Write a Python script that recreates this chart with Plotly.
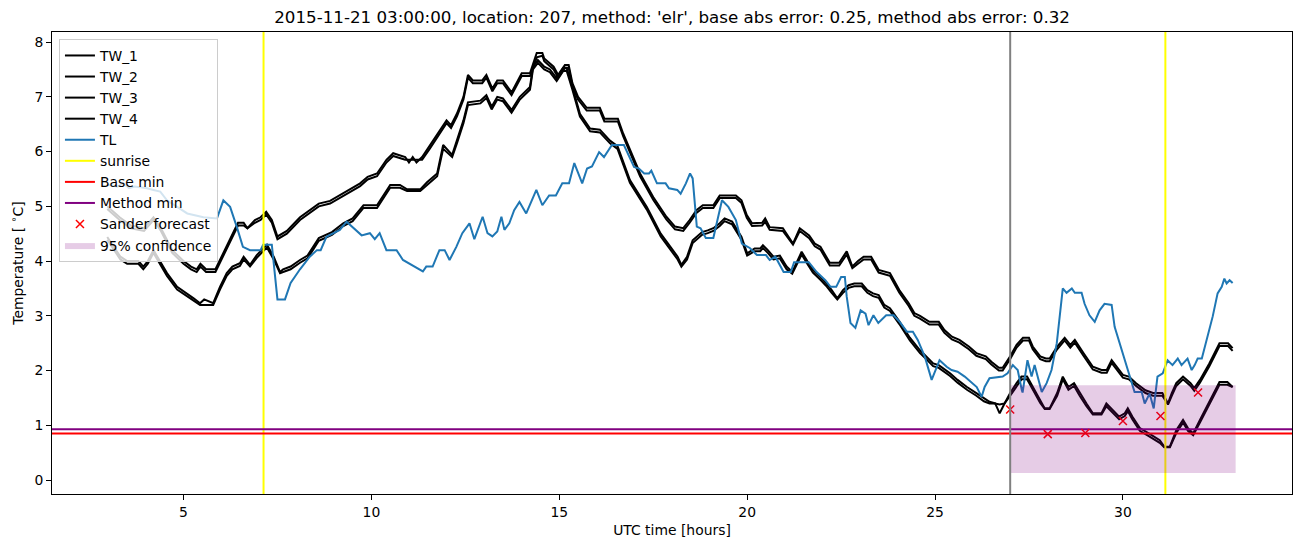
import plotly.graph_objects as go

# ---------------- data ----------------
t_a = [2.97, 3.3, 3.6, 3.95, 4.2, 4.4, 4.7, 5.0, 5.2, 5.35,
       5.45, 5.6, 5.85, 6.2, 6.45, 6.6, 6.7, 6.9, 7.05, 7.2,
       7.35, 7.5, 7.75, 8.1, 8.3, 8.6, 8.9, 9.15, 9.43, 9.7,
       9.9, 10.15, 10.4, 10.58, 10.9, 11.0, 11.1, 11.2, 11.35, 11.55,
       11.75, 11.85, 12.0, 12.12, 12.28, 12.45, 12.57, 12.7, 12.95, 13.06,
       13.22, 13.35, 13.5, 13.73, 14.0, 14.22, 14.4, 14.55, 14.6, 14.85,
       14.97, 15.15, 15.25, 15.35, 15.5, 15.73, 16.08, 16.2, 16.56, 16.7,
       16.88, 17.15, 17.5, 17.85, 18.08, 18.3, 18.47, 18.65, 18.82, 19.1,
       19.27, 19.7, 19.85, 19.99, 20.13, 20.4, 20.48, 20.6, 20.95, 21.13,
       21.22, 21.4, 21.65, 21.8, 21.95, 22.2, 22.45, 22.65, 22.8, 22.95,
       23.1, 23.3, 23.5, 23.8, 24.05, 24.3, 24.45, 24.6, 24.85, 25.1,
       25.25, 25.45, 25.65, 25.9, 26.1, 26.35, 26.5, 26.7, 26.8, 27.0,
       27.17, 27.34, 27.5, 27.6, 27.8, 27.95, 28.05, 28.25, 28.45, 28.6,
       28.72, 28.95, 29.2, 29.43, 29.57, 29.7, 29.83, 30.0, 30.16, 30.35,
       30.6, 30.8, 31.05, 31.2, 31.3, 31.42, 31.6, 31.8, 31.9, 32.05,
       32.3, 32.57, 32.8, 32.92]

tw_1 = [5.0, 4.8, 4.65, 4.6, 4.8, 4.6, 4.2, 4.0, 3.9, 3.85,
        3.95, 3.85, 3.85, 4.35, 4.7, 4.7, 4.6, 4.75, 4.8, 4.9,
        4.75, 4.45, 4.55, 4.8, 4.9, 5.05, 5.1, 5.2, 5.3, 5.42,
        5.54, 5.6, 5.85, 5.97, 5.9, 5.8, 5.9, 5.8, 5.9, 6.1,
        6.3, 6.4, 6.57, 6.48, 6.7, 7.0, 7.4, 7.3, 7.3, 7.4,
        7.15, 7.3, 7.3, 7.08, 7.43, 7.43, 7.8, 7.8, 7.7, 7.55,
        7.4, 7.58, 7.58, 7.25, 7.0, 6.8, 6.8, 6.6, 6.6, 6.33,
        6.03, 5.6, 5.17, 4.81, 4.63, 4.6, 4.75, 4.93, 5.02, 5.02,
        5.2, 5.2, 5.11, 4.84, 4.69, 4.7, 4.78, 4.62, 4.6, 4.42,
        4.32, 4.6, 4.47, 4.32, 4.26, 3.97, 3.97, 4.18, 3.9, 4.0,
        4.08, 4.08, 3.84, 3.78, 3.47, 3.23, 3.05, 3.0, 2.89, 2.89,
        2.74, 2.62, 2.56, 2.44, 2.32, 2.26, 2.16, 2.05, 2.05, 2.26,
        2.47, 2.6, 2.6, 2.44, 2.26, 2.22, 2.22, 2.44, 2.6, 2.47,
        2.56, 2.32, 2.07, 2.01, 2.01, 2.19, 2.07, 1.92, 1.89, 1.77,
        1.64, 1.59, 1.59, 1.4, 1.59, 1.77, 1.89, 1.77, 1.68, 1.83,
        2.13, 2.5, 2.5, 2.41]

tw_2 = [4.95, 4.75, 4.6, 4.55, 4.75, 4.55, 4.15, 3.95, 3.85, 3.8,
        3.9, 3.8, 3.8, 4.3, 4.65, 4.65, 4.6, 4.7, 4.75, 4.85,
        4.7, 4.4, 4.5, 4.75, 4.85, 5.0, 5.05, 5.15, 5.25, 5.37,
        5.49, 5.55, 5.8, 5.92, 5.85, 5.85, 5.85, 5.85, 5.85, 6.05,
        6.25, 6.35, 6.52, 6.43, 6.65, 6.95, 7.35, 7.25, 7.25, 7.35,
        7.1, 7.25, 7.25, 7.03, 7.38, 7.38, 7.72, 7.75, 7.65, 7.5,
        7.35, 7.53, 7.53, 7.2, 6.95, 6.75, 6.75, 6.55, 6.55, 6.28,
        5.98, 5.55, 5.12, 4.76, 4.58, 4.55, 4.7, 4.88, 4.97, 4.97,
        5.15, 5.15, 5.06, 4.79, 4.64, 4.65, 4.72, 4.57, 4.55, 4.37,
        4.3, 4.55, 4.42, 4.27, 4.21, 3.92, 3.92, 4.12, 3.87, 3.95,
        4.03, 4.03, 3.79, 3.73, 3.42, 3.18, 3.0, 2.95, 2.84, 2.84,
        2.69, 2.57, 2.51, 2.39, 2.27, 2.21, 2.11, 2.0, 2.0, 2.21,
        2.42, 2.55, 2.55, 2.39, 2.21, 2.17, 2.17, 2.39, 2.55, 2.42,
        2.51, 2.27, 2.02, 1.96, 1.96, 2.14, 2.02, 1.87, 1.84, 1.72,
        1.59, 1.54, 1.54, 1.38, 1.54, 1.72, 1.84, 1.72, 1.63, 1.78,
        2.08, 2.45, 2.45, 2.36]

t_b = [2.97, 3.32, 3.5, 3.8, 3.93, 4.05, 4.2, 4.56, 4.83, 5.1,
       5.27, 5.44, 5.55, 5.79, 5.97, 6.15, 6.3, 6.5, 6.6, 6.77,
       6.95, 7.12, 7.22, 7.4, 7.57, 7.65, 7.85, 8.1, 8.3, 8.45,
       8.6, 8.95, 9.25, 9.5, 9.79, 10.15, 10.3, 10.5, 10.76, 10.95,
       11.3, 11.48, 11.75, 11.91, 12.15, 12.28, 12.45, 12.57, 12.9, 13.06,
       13.2, 13.35, 13.5, 13.73, 13.95, 14.22, 14.3, 14.43, 14.6, 14.75,
       14.93, 15.1, 15.2, 15.35, 15.55, 15.82, 16.08, 16.35, 16.55, 16.88,
       17.33, 17.7, 17.95, 18.15, 18.25, 18.4, 18.55, 18.8, 18.95, 19.1,
       19.27, 19.4, 19.6, 19.85, 20.0, 20.2, 20.35, 20.42, 20.55, 20.7,
       20.87, 21.05, 21.2, 21.32, 21.45, 21.6, 21.75, 21.95, 22.1, 22.25,
       22.4, 22.55, 22.7, 22.85, 23.05, 23.2, 23.35, 23.5, 23.65, 23.8,
       24.05, 24.33, 24.6, 24.78, 24.95, 25.1, 25.4, 25.6, 25.85, 26.1,
       26.3, 26.45, 26.6, 26.72, 26.85, 27.0, 27.17, 27.3, 27.45, 27.6,
       27.8, 27.92, 28.05, 28.25, 28.4, 28.55, 28.7, 28.85, 29.03, 29.2,
       29.43, 29.56, 29.72, 29.9, 30.05, 30.13, 30.25, 30.45, 30.7, 30.98,
       31.1, 31.25, 31.42, 31.6, 31.73, 31.87, 32.05, 32.23, 32.4, 32.57,
       32.78, 32.92]

tw_3 = [4.44, 4.08, 4.0, 4.0, 3.9, 4.0, 4.2, 3.78, 3.53, 3.41,
        3.32, 3.23, 3.3, 3.23, 3.53, 3.78, 3.9, 3.96, 4.08, 3.93,
        4.11, 4.23, 4.3, 4.08, 3.8, 3.85, 3.9, 4.02, 4.1, 4.26,
        4.42, 4.53, 4.69, 4.78, 5.02, 5.02, 5.17, 5.39, 5.39, 5.31,
        5.31, 5.44, 5.6, 6.12, 5.94, 6.21, 6.57, 6.9, 6.93, 7.03,
        6.82, 7.0, 6.97, 6.76, 7.0, 7.18, 7.55, 7.67, 7.55, 7.5,
        7.34, 7.52, 7.52, 7.18, 6.69, 6.42, 6.4, 6.2, 6.1, 5.48,
        4.99, 4.5, 4.26, 4.08, 3.93, 4.08, 4.38, 4.53, 4.56, 4.6,
        4.69, 4.78, 4.72, 4.44, 4.14, 4.23, 4.23, 4.29, 4.2, 4.08,
        4.1, 3.9, 3.8, 3.98, 4.17, 4.0, 3.84, 3.71, 3.6, 3.47,
        3.32, 3.47, 3.56, 3.59, 3.59, 3.47, 3.41, 3.38, 3.2, 3.14,
        2.9, 2.6, 2.37, 2.25, 2.13, 2.1, 1.95, 1.83, 1.7, 1.59,
        1.49, 1.43, 1.4, 1.22, 1.4, 1.59, 1.77, 1.89, 1.89, 1.7,
        1.46, 1.31, 1.31, 1.59, 1.89, 1.7, 1.77, 1.59, 1.4, 1.22,
        1.22, 1.4, 1.28, 1.16, 1.22, 1.31, 1.16, 0.95, 0.85, 0.73,
        0.61, 0.61, 0.91, 1.1, 0.95, 0.85, 1.1, 1.34, 1.59, 1.79,
        1.79, 1.7]

tw_4 = [4.39, 4.03, 3.95, 3.95, 3.85, 3.95, 4.15, 3.73, 3.48, 3.36,
        3.27, 3.2, 3.2, 3.2, 3.48, 3.73, 3.85, 3.91, 4.03, 3.9,
        4.06, 4.18, 4.25, 4.03, 3.78, 3.8, 3.85, 3.97, 4.05, 4.21,
        4.37, 4.48, 4.64, 4.73, 4.97, 4.97, 5.12, 5.34, 5.34, 5.28,
        5.28, 5.39, 5.55, 6.05, 5.9, 6.16, 6.52, 6.85, 6.88, 6.98,
        6.77, 6.95, 6.92, 6.71, 6.95, 7.13, 7.5, 7.62, 7.5, 7.45,
        7.29, 7.47, 7.47, 7.13, 6.64, 6.37, 6.35, 6.15, 6.05, 5.43,
        4.94, 4.45, 4.21, 4.03, 3.9, 4.03, 4.33, 4.48, 4.51, 4.55,
        4.64, 4.73, 4.67, 4.39, 4.1, 4.18, 4.18, 4.24, 4.15, 4.03,
        4.05, 3.85, 3.77, 3.93, 4.12, 3.95, 3.79, 3.66, 3.55, 3.42,
        3.3, 3.42, 3.51, 3.54, 3.54, 3.42, 3.36, 3.33, 3.15, 3.09,
        2.85, 2.55, 2.32, 2.2, 2.08, 2.05, 1.9, 1.78, 1.65, 1.54,
        1.44, 1.4, 1.4, 1.38, 1.4, 1.54, 1.72, 1.84, 1.84, 1.65,
        1.41, 1.3, 1.3, 1.54, 1.84, 1.65, 1.72, 1.54, 1.35, 1.2,
        1.2, 1.35, 1.23, 1.11, 1.17, 1.26, 1.11, 0.9, 0.8, 0.68,
        0.6, 0.6, 0.86, 1.05, 0.9, 0.82, 1.05, 1.29, 1.54, 1.74,
        1.74, 1.7]

tl_t = [2.97, 3.24, 3.4, 3.55, 3.7, 4.03, 4.2, 4.38, 4.56, 4.83,
        5.1, 5.53, 5.89, 6.06, 6.24, 6.42, 6.58, 6.77, 7.05, 7.12,
        7.35, 7.5, 7.7, 7.85, 8.1, 8.36, 8.55, 8.65, 8.8, 9.16,
        9.34, 9.74, 9.96, 10.09, 10.22, 10.4, 10.67, 10.84, 11.15, 11.37,
        11.46, 11.63, 11.81, 11.95, 12.08, 12.26, 12.42, 12.61, 12.74, 12.96,
        13.09, 13.22, 13.35, 13.46, 13.54, 13.67, 13.8, 13.94, 14.12, 14.39,
        14.55, 14.73, 14.91, 15.08, 15.26, 15.4, 15.61, 15.74, 15.87, 16.06,
        16.19, 16.4, 16.72, 16.99, 17.12, 17.26, 17.39, 17.45, 17.6, 17.83,
        17.92, 18.14, 18.23, 18.37, 18.48, 18.55, 18.66, 18.76, 18.9, 19.1,
        19.33, 19.5, 19.7, 19.86, 20.07, 20.26, 20.5, 20.6, 20.75, 20.97,
        21.16, 21.25, 21.64, 21.85, 22.08, 22.22, 22.37, 22.5, 22.6, 22.65,
        22.75, 22.88, 23.02, 23.15, 23.23, 23.36, 23.49, 23.7, 23.9, 24.06,
        24.25, 24.41, 24.54, 24.73, 24.91, 25.05, 25.12, 25.31, 25.44, 25.6,
        25.79, 26.11, 26.24, 26.32, 26.45, 26.8, 26.93, 27.07, 27.2, 27.31,
        27.33, 27.46, 27.57, 27.65, 27.73, 27.84, 27.97, 28.1, 28.24, 28.4,
        28.5, 28.64, 28.72, 28.9, 28.98, 29.11, 29.25, 29.38, 29.51, 29.7,
        29.78, 29.97, 30.12, 30.31, 30.5, 30.58, 30.71, 30.82, 30.92, 31.06,
        31.19, 31.32, 31.46, 31.56, 31.72, 31.83, 31.91, 31.99, 32.1, 32.23,
        32.39, 32.52, 32.63, 32.7, 32.76, 32.84, 32.92]

tl_v = [5.4, 5.36, 5.42, 5.33, 5.36, 5.33, 5.3, 5.27, 5.11, 4.99,
        4.87, 4.8, 4.78, 5.11, 4.99, 4.62, 4.26, 4.2, 4.2, 4.3,
        4.3, 3.3, 3.3, 3.6, 3.85, 4.08, 4.2, 4.2, 4.44, 4.57,
        4.72, 4.47, 4.51, 4.4, 4.51, 4.2, 4.2, 4.02, 3.9, 3.81,
        3.9, 3.9, 4.2, 4.2, 4.02, 4.26, 4.51, 4.69, 4.4, 4.81,
        4.51, 4.45, 4.54, 4.81, 4.57, 4.69, 4.93, 5.08, 4.87, 5.3,
        5.02, 5.2, 5.2, 5.42, 5.42, 5.79, 5.42, 5.69, 5.73, 5.99,
        5.9, 6.12, 6.12, 5.72, 5.69, 5.6, 5.6, 5.65, 5.42, 5.42,
        5.33, 5.3, 5.23, 5.42, 5.6, 5.51, 4.63, 4.6, 4.42, 4.42,
        5.11, 4.99, 4.75, 4.32, 4.24, 4.11, 4.11, 4.02, 4.08, 3.8,
        3.8, 3.98, 3.98, 3.8, 3.65, 3.53, 3.53, 3.71, 3.71, 3.35,
        2.87, 2.78, 3.1, 3.04, 2.83, 3.01, 2.87, 3.01, 3.01, 2.89,
        2.71, 2.71, 2.56, 2.25, 1.83, 2.07, 2.19, 2.07, 2.01, 1.98,
        1.89, 1.7, 1.52, 1.7, 1.86, 1.89, 1.95, 2.1, 2.01, 1.64,
        1.6, 2.19, 1.89, 2.1, 1.89, 1.61, 1.77, 2.01, 2.5, 3.5,
        3.42, 3.5, 3.42, 3.42, 3.22, 3.01, 2.89, 3.1, 3.22, 3.2,
        2.8, 2.37, 2.01, 1.61, 1.61, 1.4, 1.58, 1.31, 1.89, 1.95,
        2.19, 2.1, 2.22, 2.1, 2.22, 2.01, 2.1, 2.22, 2.22, 2.56,
        2.99, 3.41, 3.53, 3.68, 3.59, 3.65, 3.6]

sunrise_times = [7.13, 31.13]
forecast_time = 27.0
base_min = 0.85
method_min = 0.93
sander_t = [27, 28, 29, 30, 31, 32]
sander_v = [1.29, 0.84, 0.86, 1.08, 1.17, 1.60]
conf_t = [27.0, 33.0]
conf_low = 0.13
conf_high = 1.73

x_ticks = [5, 10, 15, 20, 25, 30]
y_ticks = [0, 1, 2, 3, 4, 5, 6, 7, 8]
X_RANGE = [1.5, 34.5]
Y_RANGE = [-0.254, 8.184]

title = ("2015-11-21 03:00:00, location: 207, method: 'elr', "
         "base abs error: 0.25, method abs error: 0.32")

FONT = "DejaVu Sans"

# ---------------- figure ----------------
fig = go.Figure()

for name, t, v in [("TW_1", t_a, tw_1), ("TW_2", t_a, tw_2),
                   ("TW_3", t_b, tw_3), ("TW_4", t_b, tw_4)]:
    fig.add_trace(go.Scatter(x=t, y=v, mode="lines", name=name,
                             line=dict(color="black", width=2)))

fig.add_trace(go.Scatter(x=tl_t, y=tl_v, mode="lines", name="TL",
                         line=dict(color="#1f77b4", width=2)))

sx, sy = [], []
for s in sunrise_times:
    sx += [s, s, None]
    sy += [Y_RANGE[0], Y_RANGE[1], None]
fig.add_trace(go.Scatter(x=sx, y=sy, mode="lines", name="sunrise",
                         line=dict(color="yellow", width=2)))

fig.add_trace(go.Scatter(x=X_RANGE, y=[base_min, base_min], mode="lines",
                         name="Base min", line=dict(color="red", width=2)))
fig.add_trace(go.Scatter(x=X_RANGE, y=[method_min, method_min], mode="lines",
                         name="Method min", line=dict(color="purple", width=2)))

fig.add_trace(go.Scatter(x=sander_t, y=sander_v, mode="markers",
                         name="Sander forecast",
                         marker=dict(symbol="x-thin", size=8, color="red",
                                     line=dict(color="red", width=1.5))))

fig.add_trace(go.Scatter(
    x=[conf_t[0], conf_t[1], conf_t[1], conf_t[0], conf_t[0]],
    y=[conf_low, conf_low, conf_high, conf_high, conf_low],
    mode="lines", fill="toself", fillcolor="rgba(128,0,128,0.2)",
    line=dict(width=0, color="rgba(128,0,128,0)"),
    name="95% confidence"))

fig.add_trace(go.Scatter(x=[forecast_time, forecast_time], y=Y_RANGE,
                         mode="lines", showlegend=False,
                         line=dict(color="grey", width=2)))

axis_common = dict(showline=True, mirror=True, linecolor="black", linewidth=1,
                   ticks="outside", ticklen=5, tickwidth=1, tickcolor="black",
                   showgrid=False, zeroline=False,
                   tickfont=dict(family=FONT, size=13.9, color="black"))

fig.update_layout(
    width=1302, height=547,
    margin=dict(l=52, r=10, t=32, b=53),
    paper_bgcolor="white", plot_bgcolor="white",
    font=dict(family=FONT, size=13.9, color="black"),
    title=dict(text=title, x=0.5162, xanchor="center", y=0.969, yanchor="middle",
               yref="container", font=dict(family=FONT, size=16.7, color="black")),
    xaxis=dict(range=X_RANGE, tickvals=x_ticks,
               title=dict(text="UTC time [hours]", standoff=6,
                          font=dict(family=FONT, size=13.9)),
               automargin=False, **axis_common),
    yaxis=dict(range=Y_RANGE, tickvals=y_ticks,
               title=dict(text="Temperature [ <sup>∘</sup>C]", standoff=7,
                          font=dict(family=FONT, size=13.9)),
               automargin=False, **axis_common),
    legend=dict(x=0.0056, y=0.985, xanchor="left", yanchor="top",
                bgcolor="rgba(255,255,255,0.8)", bordercolor="#cccccc",
                borderwidth=1, font=dict(family=FONT, size=13.9, color="black"),
                itemwidth=30, tracegroupgap=0),
    showlegend=True,
)

fig.write_html("out.html")
